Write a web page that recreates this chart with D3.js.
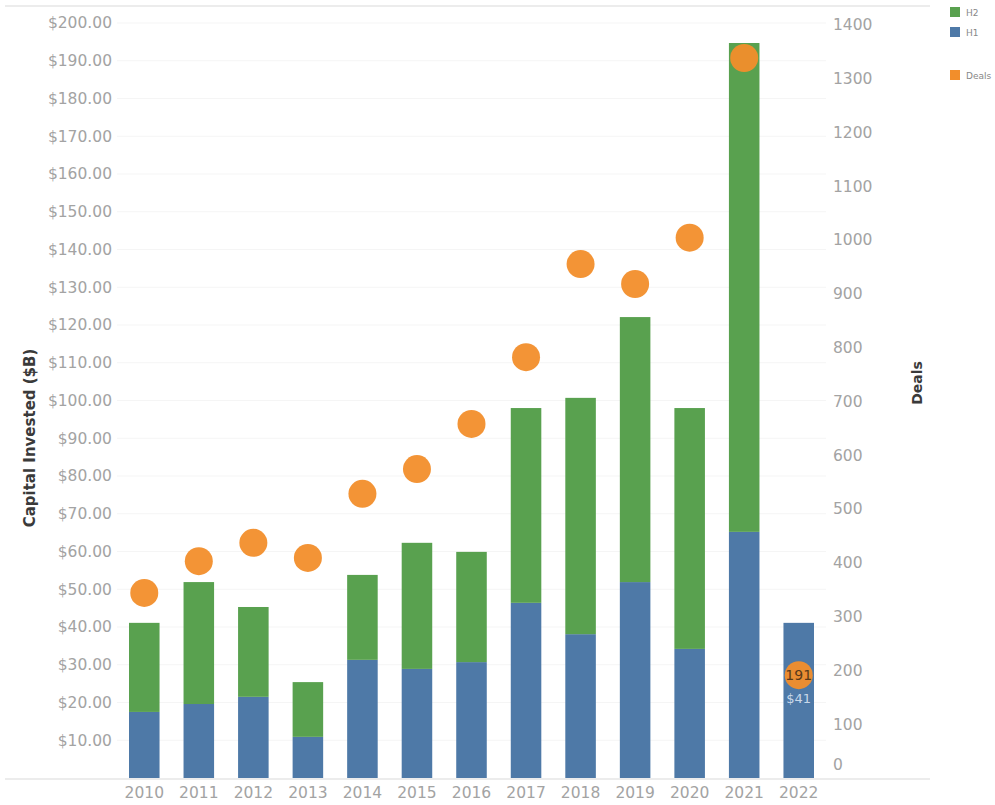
<!DOCTYPE html>
<html>
<head>
<meta charset="utf-8">
<script src="https://cdn.jsdelivr.net/npm/d3@7"></script>
<style>
  body { margin: 0; background: #fff; font-family: "DejaVu Sans", sans-serif; }
  svg { display: block; }
</style>
</head>
<body>
<svg id="chart" width="995" height="805"></svg>
<script>
// Capital invested per half-year ($B) and deal counts
const years = ['2010','2011','2012','2013','2014','2015','2016','2017','2018','2019','2020','2021','2022'];
const h1 = [17.5, 19.6, 21.5, 10.9, 31.3, 28.9, 30.7, 46.4, 38.1, 51.9, 34.2, 65.2, 41.1];
const h2 = [23.6, 32.3, 23.8, 14.5, 22.5, 33.4, 29.2, 51.6, 62.6, 70.2, 63.8, 129.5, 0];
const deals = [344, 403, 437, 409, 528, 574, 658, 782, 955, 918, 1004, 1338, 191];
const leftTicks = [10,20,30,40,50,60,70,80,90,100,110,120,130,140,150,160,170,180,190,200];
const rightTicks = [0,100,200,300,400,500,600,700,800,900,1000,1100,1200,1300,1400];

const colors = { h2: '#59a14f', h1: '#4e79a7', deals: '#f28e2b' };
const font = '"DejaVu Sans", sans-serif';

const svg = d3.select('#chart');
const plotTop = 23, plotBottom = 778;

const x = d3.scaleBand().domain(years).range([117, 826]).paddingInner(0.44).paddingOuter(0.22);
const yL = d3.scaleLinear().domain([0, 200]).range([plotBottom, plotTop]);
const yR = d3.scaleLinear().domain([0, 1403]).range([plotBottom, plotTop]);

// top border line
svg.append('line').attr('x1', 5).attr('x2', 930).attr('y1', 6).attr('y2', 6)
    .attr('stroke', '#e6e6e6').attr('stroke-width', 1.5);

// faint gridlines
svg.append('g').selectAll('line').data(leftTicks).join('line')
    .attr('x1', 117).attr('x2', 826)
    .attr('y1', d => yL(d)).attr('y2', d => yL(d))
    .attr('stroke', '#f5f5f5');

// left axis
const axL = svg.append('g').attr('transform', 'translate(112,0)')
    .call(d3.axisLeft(yL).tickValues(leftTicks).tickSize(0).tickPadding(0)
        .tickFormat(d => '$' + d3.format('.2f')(d)));
axL.select('.domain').remove();
axL.selectAll('text').attr('fill', '#a3a3a3').style('font-size', '15.5px')
    .style('font-family', font);

// right axis (edge label nudged up like the original)
const axR = svg.append('g').attr('transform', 'translate(833,0)')
    .call(d3.axisRight(yR).tickValues(rightTicks).tickSize(0).tickPadding(0)
        .tickFormat(d3.format('d')));
axR.select('.domain').remove();
axR.selectAll('text').attr('fill', '#a3a3a3').style('font-size', '15.5px')
    .style('font-family', font)
    .attr('dy', d => d === 0 ? '-0.55em' : '0.32em');

// bottom axis
const axB = svg.append('g').attr('transform', `translate(0,${plotBottom})`)
    .call(d3.axisBottom(x).tickSize(0).tickPadding(9));
axB.select('.domain').remove();
axB.selectAll('text').attr('fill', '#a3a3a3').style('font-size', '15.5px')
    .style('font-family', font);

// axis titles
svg.append('text').attr('transform', 'translate(35,438) rotate(-90)')
    .attr('text-anchor', 'middle').attr('fill', '#3a3a3a').style('font-size', '15px')
    .style('font-family', font).style('font-weight', 'bold').text('Capital Invested ($B)');
svg.append('text').attr('transform', 'translate(922,383) rotate(-90)')
    .attr('text-anchor', 'middle').attr('fill', '#3a3a3a').style('font-size', '14px')
    .style('font-family', font).style('font-weight', 'bold').text('Deals');

// stacked bars
const rows = years.map((yr, i) => ({ year: yr, h1: h1[i], h2: h2[i] }));
const stacked = d3.stack().keys(['h1', 'h2'])(rows);
svg.append('g').selectAll('g').data(stacked).join('g')
    .attr('fill', d => colors[d.key])
    .selectAll('rect').data(d => d).join('rect')
    .attr('x', d => x(d.data.year))
    .attr('width', x.bandwidth())
    .attr('y', d => yL(d[1]))
    .attr('height', d => yL(d[0]) - yL(d[1]));

// baseline
svg.append('line').attr('x1', 5).attr('x2', 930).attr('y1', plotBottom + 1).attr('y2', plotBottom + 1)
    .attr('stroke', '#d9d9d9');

// deals circles
svg.append('g').selectAll('circle').data(deals).join('circle')
    .attr('cx', (d, i) => x(years[i]) + x.bandwidth() / 2)
    .attr('cy', d => yR(d))
    .attr('r', 14)
    .attr('fill', colors.deals)
    .attr('opacity', 0.95);

// labels for 2022
const last = years.length - 1;
const cx = x(years[last]) + x.bandwidth() / 2;
svg.append('text').attr('x', cx).attr('y', yR(deals[last]) + 5)
    .attr('text-anchor', 'middle').attr('fill', '#5a3a1a').style('font-size', '14px')
    .style('font-family', font).text(deals[last]);
svg.append('text').attr('x', cx).attr('y', yR(deals[last]) + 28)
    .attr('text-anchor', 'middle').attr('fill', '#c9d8ea').style('font-size', '13px')
    .style('font-family', font).text('$' + Math.round(h1[last] + h2[last]));

// legend
const legend = [
    { label: 'H2', color: colors.h2, y: 12 },
    { label: 'H1', color: colors.h1, y: 32 },
    { label: 'Deals', color: colors.deals, y: 75 }
];
const lg = svg.append('g').selectAll('g').data(legend).join('g')
    .attr('transform', d => `translate(950,${d.y})`);
lg.append('rect').attr('x', 0).attr('y', -5).attr('width', 10).attr('height', 10)
    .attr('fill', d => d.color);
lg.append('text').attr('x', 16).attr('y', 3.5).attr('fill', '#888')
    .style('font-size', '9px').style('font-family', font).text(d => d.label);
</script>
</body>
</html>
